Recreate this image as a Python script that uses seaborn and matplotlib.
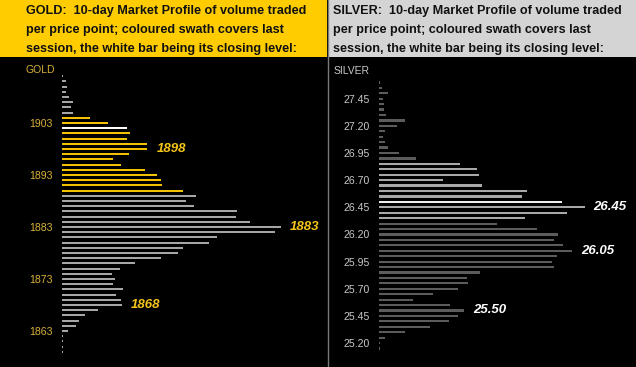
import matplotlib
matplotlib.use("Agg")
import matplotlib.pyplot as plt
import pandas as pd
import seaborn as sns
from matplotlib.patches import Rectangle
from matplotlib.lines import Line2D

# ---------------- data ----------------
gold_prices = [1912, 1911, 1910, 1909, 1908, 1907, 1906, 1905, 1904, 1903,
               1902, 1901, 1900, 1899, 1898, 1897, 1896, 1895, 1894, 1893,
               1892, 1891, 1890, 1889, 1888, 1887, 1886, 1885, 1884, 1883,
               1882, 1881, 1880, 1879, 1878, 1877, 1876, 1875, 1874, 1873,
               1872, 1871, 1870, 1869, 1868, 1867, 1866, 1865, 1864, 1863,
               1862, 1861, 1860, 1859]
gold_volume = [1, 3.7, 4.7, 3.7, 7, 11, 8.7, 11, 28, 45.7,
               64.7, 68, 65.3, 84.7, 85, 67.3, 50.7, 58.7, 83, 94.7,
               99, 100, 120.7, 134, 123.7, 132, 175.3, 173.7, 187.7, 219,
               213, 155.3, 147, 120.7, 116, 99, 73, 58, 50, 53,
               51.3, 60.7, 53.7, 59, 59.7, 36, 23, 16.7, 14.3, 6,
               1, 1, 1, 1]
gold_session = (1890, 1904)
gold_close = 1902
gold_ticks = [1903, 1893, 1883, 1873, 1863]
gold_callouts = [1898, 1883, 1868]

silver_prices = [27.60, 27.55, 27.50, 27.45, 27.40, 27.35, 27.30, 27.25, 27.20, 27.15,
                 27.10, 27.05, 27.00, 26.95, 26.90, 26.85, 26.80, 26.75, 26.70, 26.65,
                 26.60, 26.55, 26.50, 26.45, 26.40, 26.35, 26.30, 26.25, 26.20, 26.15,
                 26.10, 26.05, 26.00, 25.95, 25.90, 25.85, 25.80, 25.75, 25.70, 25.65,
                 25.60, 25.55, 25.50, 25.45, 25.40, 25.35, 25.30, 25.25, 25.20, 25.15]
silver_volume = [1, 2.7, 9, 4.3, 5.3, 5.3, 7.3, 26, 17.7, 5.7,
                 4.3, 6.3, 9, 19.7, 37.3, 81.3, 97.7, 100, 64.3, 103,
                 148.3, 143.3, 183.3, 205.7, 187.7, 146.3, 117.7, 157.7, 179.3, 175.3,
                 184, 192.7, 177.7, 173.3, 175.3, 100.7, 87.7, 89.3, 79, 53.7,
                 34.3, 71.3, 85.3, 79.3, 69.7, 51.3, 26, 6.3, 0.7, 0.5]
silver_session = (26.35, 26.85)
silver_close = 26.50
silver_ticks = [27.45, 27.20, 26.95, 26.70, 26.45, 26.20, 25.95, 25.70, 25.45, 25.20]
silver_callouts = [26.45, 26.05, 25.50]

gold_title = ["GOLD:  10-day Market Profile of volume traded",
              "per price point; coloured swath covers last",
              "session, the white bar being its closing level:"]
silver_title = ["SILVER:  10-day Market Profile of volume traded",
                "per price point; coloured swath covers last",
                "session, the white bar being its closing level:"]


def groups(prices, session, close):
    out = []
    for p in prices:
        if abs(p - close) < 1e-9:
            out.append("close")
        elif session[0] - 1e-9 <= p <= session[1] + 1e-9:
            out.append("session")
        else:
            out.append("other")
    return out


gold_df = pd.DataFrame({"price": gold_prices, "volume": gold_volume,
                        "group": groups(gold_prices, gold_session, gold_close)})
silver_df = pd.DataFrame({"price": silver_prices, "volume": silver_volume,
                          "group": groups(silver_prices, silver_session, silver_close)})

# ---------------- style ----------------
sns.set_style("dark")
plt.rcParams["font.family"] = ["Liberation Sans", "DejaVu Sans"]

W, H = 636, 367
fig = plt.figure(figsize=(W / 100, H / 100), dpi=100, facecolor="black")


def px(x0, y0, x1, y1):
    return [x0 / W, 1 - y1 / H, (x1 - x0) / W, (y1 - y0) / H]


# header boxes
fig.patches.append(Rectangle((0, 1 - 57 / H), 327 / W, 57 / H, transform=fig.transFigure,
                             facecolor="#FFCC00", edgecolor="none", zorder=0))
fig.patches.append(Rectangle((328 / W, 1 - 57 / H), (W - 328) / W, 57 / H, transform=fig.transFigure,
                             facecolor="#D4D4D4", edgecolor="none", zorder=0))
fig.add_artist(Line2D([327.5 / W, 327.5 / W], [0, 1], transform=fig.transFigure,
                      color="#7a7a7a", lw=1.0))

for i, (gl, sl) in enumerate(zip(gold_title, silver_title)):
    yy = 1 - (11 + 19 * i) / H
    fig.text(26 / W, yy, gl, fontsize=9.1, fontweight="bold", color="#111111", va="center", ha="left")
    fig.text(333 / W, yy, sl, fontsize=9.1, fontweight="bold", color="#111111", va="center", ha="left")

fig.text(25 / W, 1 - 70 / H, "GOLD", fontsize=7.5, color="#D9B03A", va="center", ha="left")
fig.text(334 / W, 1 - 71 / H, "SILVER", fontsize=7.5, color="#C8C8C8", va="center", ha="left")


def style_axis(ax, xmax, ylim, ticks, labels, color):
    for p in ax.patches:
        p.set_antialiased(False)
    ax.set_xlim(0, xmax)
    ax.set_ylim(*ylim)
    ax.set_yticks(ticks)
    ax.set_yticklabels(labels)
    ax.tick_params(axis="y", length=0, pad=6.5, labelsize=7.6, labelcolor=color)
    ax.set_xticks([])
    ax.set_xlabel("")
    ax.set_ylabel("")
    ax.set_facecolor("black")
    ax.grid(False)
    for s in ax.spines.values():
        s.set_visible(False)


# ---------------- gold panel ----------------
axg = fig.add_axes(px(62, 62, 320, 362))
sns.barplot(data=gold_df, x="volume", y="price", hue="group", orient="y", native_scale=True,
            palette={"session": "#F2C200", "close": "#FFFFFF", "other": "#A6A6A6"},
            dodge=False, width=0.42, legend=False, errorbar=None, saturation=1,
            linewidth=0, ax=axg)
style_axis(axg, 258, (1857.04, 1914.73), gold_ticks, [str(t) for t in gold_ticks], "#D9B03A")
for val, xx in zip(gold_callouts, [95, 228, 69]):
    axg.text(xx, val, str(val), fontsize=9.5, fontweight="bold", fontstyle="italic",
             color="#F5C518", va="center", ha="left")

# ---------------- silver panel ----------------
axs = fig.add_axes(px(379, 62, 636, 362))
sns.barplot(data=silver_df, x="volume", y="price", hue="group", orient="y", native_scale=True,
            palette={"session": "#A8A8A8", "close": "#EDEDED", "other": "#5C5C5C"},
            dodge=False, width=0.4, legend=False, errorbar=None, saturation=1,
            linewidth=0, ax=axs)
style_axis(axs, 257, (25.0255, 27.788), silver_ticks, [f"{t:.2f}" for t in silver_ticks], "#C8C8C8")
for val, xx in zip(silver_callouts, [214, 202, 94]):
    axs.text(xx, val, f"{val:.2f}", fontsize=9.5, fontweight="bold", fontstyle="italic",
             color="#FFFFFF", va="center", ha="left")

fig.savefig("out.png", dpi=100, facecolor="black")
